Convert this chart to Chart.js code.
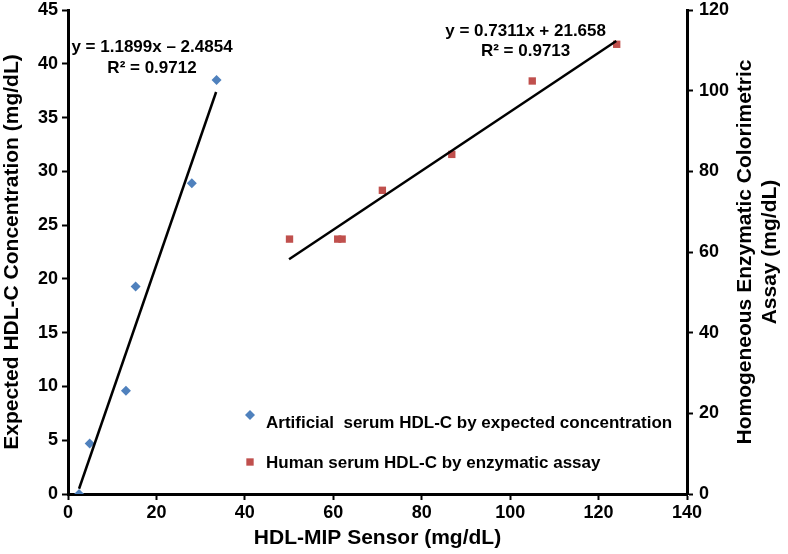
<!DOCTYPE html>
<html>
<head>
<meta charset="utf-8">
<script src="https://cdn.jsdelivr.net/npm/chart.js@4/dist/chart.umd.min.js"></script>
<style>
  html, body { margin: 0; padding: 0; background: #fff; }
  #wrap { width: 788px; height: 554px; position: relative; }
</style>
</head>
<body>
<div id="wrap"><canvas id="chart"></canvas></div>
<script>
// Artificial serum: HDL-MIP sensor (x) vs expected concentration (left axis)
const artificialX = [2.5, 4.9, 13.1, 15.3, 28.0, 33.6];
const artificialY = [0.0, 4.7, 9.6, 19.3, 28.9, 38.5];

// Human serum: HDL-MIP sensor (x) vs enzymatic assay (right axis)
const humanX = [50.1, 61.0, 62.0, 71.1, 86.8, 105.0, 124.1];
const humanY = [63.2, 63.2, 63.2, 75.3, 84.2, 102.4, 111.5];

// Linear fits shown on the chart
const artificialFit = { slope: 1.1899, intercept: -2.4854, from: 2.5, to: 33.5 };
const humanFit = { slope: 0.7311, intercept: 21.658, from: 50, to: 124 };
const artificialEq = ['y = 1.1899x \u2013 2.4854', 'R\u00B2 = 0.9712'];
const humanEq = ['y = 0.7311x + 21.658', 'R\u00B2 = 0.9713'];

const xTicks = [0, 20, 40, 60, 80, 100, 120, 140];
const leftTicks = [0, 5, 10, 15, 20, 25, 30, 35, 40, 45];
const rightTicks = [0, 20, 40, 60, 80, 100, 120];

const legendLabels = [
    'Artificial  serum HDL-C by expected concentration',
    'Human serum HDL-C by enzymatic assay'
];
const rightTitle = ['Homogeneous Enzymatic Colorimetric', 'Assay (mg/dL)'];

const BLUE = '#4f81bd';
const RED = '#c0504d';
const FONT = '"Liberation Sans", Arial, sans-serif';

let toPoints = function (xs, ys) {
    return xs.map((x, i) => ({ x: x, y: ys[i] }));
};

let fitLine = function (fit) {
    return [fit.from, fit.to].map(x => ({ x: x, y: fit.slope * x + fit.intercept }));
};

// Draws the in-plot legend, the regression equations and the right axis title
const annotations = {
    id: 'annotations',
    afterDraw(chart) {
        const ctx = chart.ctx;
        const area = chart.chartArea;
        const xs = chart.scales.x, ys = chart.scales.y, ys1 = chart.scales.y1;
        ctx.save();
        ctx.fillStyle = '#000';
        ctx.textAlign = 'center';
        ctx.textBaseline = 'middle';

        // equations
        ctx.font = 'bold 17px ' + FONT;
        const lx = xs.getPixelForValue(19), ly = ys.getPixelForValue(41.5);
        ctx.fillText(artificialEq[0], lx, ly);
        ctx.fillText(artificialEq[1], lx, ly + 21);
        const rx = xs.getPixelForValue(103.5), ry = ys1.getPixelForValue(114.6);
        ctx.fillText(humanEq[0], rx, ry);
        ctx.fillText(humanEq[1], rx, ry + 20);

        // legend
        const items = [chart.data.datasets[0], chart.data.datasets[1]];
        const legX = area.left + 182;
        const markY = [area.top + 405, area.top + 452];
        const textY = [area.top + 413, area.top + 453];
        ctx.font = 'bold 17px ' + FONT;
        ctx.textAlign = 'left';
        items.forEach((ds, i) => {
            ctx.fillStyle = ds.backgroundColor;
            Chart.helpers.drawPoint(ctx, {
                pointStyle: ds.pointStyle,
                radius: ds.pointRadius,
                borderWidth: 0
            }, legX, markY[i]);
            ctx.fillStyle = '#000';
            ctx.fillText(legendLabels[i], legX + 16, textY[i]);
        });

        // right axis title, reading bottom to top
        ctx.font = 'bold 21px ' + FONT;
        ctx.textAlign = 'center';
        const cy = (area.top + area.bottom) / 2;
        [58, 83].forEach((off, i) => {
            ctx.save();
            ctx.translate(ys1.left + off, cy);
            ctx.rotate(-Math.PI / 2);
            ctx.fillText(rightTitle[i], 0, 0);
            ctx.restore();
        });
        ctx.restore();
    }
};

const axisBorder = { display: true, color: '#000', width: 3 };
const axisGrid = { drawOnChartArea: false, drawTicks: true, tickLength: 6, tickWidth: 2, tickColor: '#000' };
const tickFont = { family: FONT, size: 18, weight: 'bold' };
const titleFont = { family: FONT, size: 21, weight: 'bold' };

new Chart(document.getElementById('chart'), {
    type: 'scatter',
    data: {
        datasets: [{
            label: legendLabels[0],
            data: toPoints(artificialX, artificialY),
            yAxisID: 'y',
            pointStyle: 'rectRot',
            pointRadius: 5,
            backgroundColor: BLUE,
            borderColor: BLUE,
            borderWidth: 0,
            order: 1
        }, {
            label: legendLabels[1],
            data: toPoints(humanX, humanY),
            yAxisID: 'y1',
            pointStyle: 'rect',
            pointRadius: 5.2,
            backgroundColor: RED,
            borderColor: RED,
            borderWidth: 0,
            order: 1
        }, {
            label: 'fit artificial',
            data: fitLine(artificialFit),
            yAxisID: 'y',
            showLine: true,
            pointRadius: 0,
            borderColor: '#000',
            borderWidth: 2.5,
            order: 0
        }, {
            label: 'fit human',
            data: fitLine(humanFit),
            yAxisID: 'y1',
            showLine: true,
            pointRadius: 0,
            borderColor: '#000',
            borderWidth: 2.5,
            order: 0
        }]
    },
    options: {
        responsive: true,
        maintainAspectRatio: false,
        animation: false,
        layout: { padding: { top: 0, left: 0, right: 0, bottom: 0 } },
        plugins: {
            legend: { display: false },
            tooltip: { enabled: false }
        },
        scales: {
            x: {
                type: 'linear',
                position: 'bottom',
                min: 0,
                max: 140,
                afterBuildTicks: s => { s.ticks = xTicks.map(v => ({ value: v })); },
                afterFit: s => { s.height = 60; },
                border: axisBorder,
                grid: axisGrid,
                ticks: { color: '#000', font: tickFont, padding: 2, maxRotation: 0 },
                title: {
                    display: true,
                    text: 'HDL-MIP Sensor (mg/dL)',
                    color: '#000',
                    font: titleFont,
                    padding: { top: 0, bottom: 3 }
                }
            },
            y: {
                type: 'linear',
                position: 'left',
                min: 0,
                max: 45,
                afterBuildTicks: s => { s.ticks = leftTicks.map(v => ({ value: v })); },
                afterFit: s => { s.width = 68; s.paddingTop = 10; s.paddingBottom = 0; },
                border: axisBorder,
                grid: axisGrid,
                ticks: { color: '#000', font: tickFont, padding: 4 },
                title: {
                    display: true,
                    text: 'Expected HDL-C Concentration (mg/dL)',
                    color: '#000',
                    font: titleFont,
                    padding: { top: 0, bottom: 0 }
                }
            },
            y1: {
                type: 'linear',
                position: 'right',
                min: 0,
                max: 120,
                afterBuildTicks: s => { s.ticks = rightTicks.map(v => ({ value: v })); },
                afterFit: s => { s.width = 101; s.paddingTop = 10; s.paddingBottom = 0; },
                border: axisBorder,
                grid: axisGrid,
                ticks: { color: '#000', font: tickFont, padding: 6 }
            }
        }
    },
    plugins: [annotations]
});
</script>
</body>
</html>
